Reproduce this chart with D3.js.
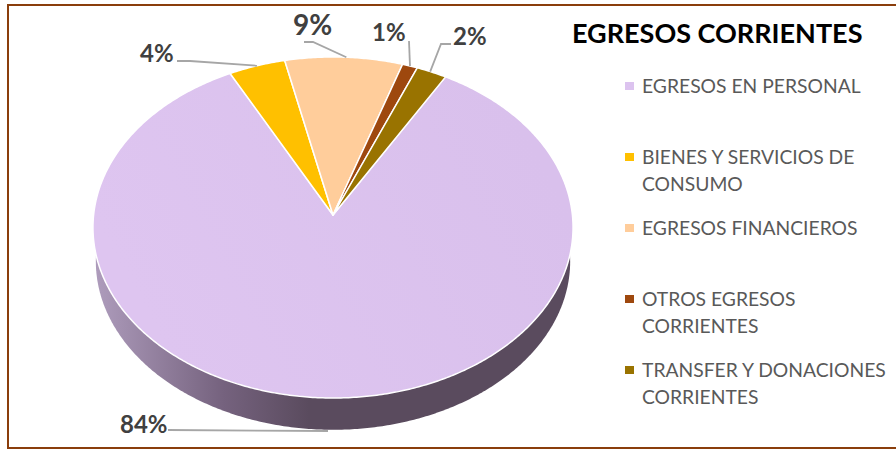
<!DOCTYPE html>
<html>
<head>
<meta charset="utf-8">
<script src="https://cdn.jsdelivr.net/npm/d3@7"></script>
<style>
  html, body { margin: 0; padding: 0; background: #fff; }
  svg { display: block; }
  text { font-family: Lato, "Open Sans", sans-serif; }
</style>
</head>
<body>
<svg width="896" height="449"></svg>
<script>
// the labels show the rounded percentages
var categories = ['EGRESOS EN PERSONAL', 'BIENES Y SERVICIOS DE CONSUMO', 'EGRESOS FINANCIEROS', 'OTROS EGRESOS CORRIENTES', 'TRANSFER Y DONACIONES CORRIENTES'];
var values = [84.1, 4.1, 8.5, 1.1, 2.2];
var percentLabels = ['84%', '4%', '9%', '1%', '2%'];
var colors = ['#dcc3ef', '#ffc000', '#ffcd9b', '#9e480e', '#997300'];
var legendLines = [['EGRESOS EN PERSONAL'], ['BIENES Y SERVICIOS DE', 'CONSUMO'], ['EGRESOS FINANCIEROS'], ['OTROS EGRESOS', 'CORRIENTES'], ['TRANSFER Y DONACIONES', 'CORRIENTES']];

/************ layout ************/
var W = 896, H = 449;
var cx = 333, cy = 215;     // apex of the slices
var rx = 239.4, a = 169.6;  // disc size before perspective
var k = 0.0733;             // perspective, far side of the disc looks smaller
var depth = 34;
var startAngle = 30 * Math.PI / 180;

// where each label and its leader go, same order as values
var labelPos = [
  {x: 120, y: 433, size: 24, leader: [[168, 430], [328, 431]]},
  {x: 140, y: 62, size: 24, leader: [[177, 61], [190, 61]]},
  {x: 293, y: 35, size: 28, leader: [[304, 42], [313, 42]]},
  {x: 372, y: 41, size: 24, leader: [[409, 41]]},
  {x: 453, y: 45, size: 24, leader: [[451, 44], [441, 44]]}
];
// how far along the rim the leader lands, as share of the slice (0 = its start)
var leaderAt = [null, 0.5, 0.52, 0.5, 0.45];

var legendY = [93, 164, 235, 306, 377];
var legendLine = 26.5;

var svg = d3.select('svg');

var defs = svg.append('defs');
var wallGrad = defs.append('linearGradient').attr('id', 'wall')
  .attr('gradientUnits', 'userSpaceOnUse')
  .attr('x1', 95).attr('x2', 571).attr('y1', 0).attr('y2', 0);
wallGrad.append('stop').attr('offset', '0').attr('stop-color', '#ae9cbc');
wallGrad.append('stop').attr('offset', '0.27').attr('stop-color', '#75627e');
wallGrad.append('stop').attr('offset', '0.45').attr('stop-color', '#5a4b5e');
wallGrad.append('stop').attr('offset', '1').attr('stop-color', '#5a4b5e');
var topGrad = defs.append('linearGradient').attr('id', 'topFill')
  .attr('gradientUnits', 'userSpaceOnUse')
  .attr('x1', 150).attr('y1', 320).attr('x2', 520).attr('y2', 120);
topGrad.append('stop').attr('offset', '0').attr('stop-color', '#dec5f0');
topGrad.append('stop').attr('offset', '1').attr('stop-color', '#d9c0ec');

// circle angle (0 = away from viewer, clockwise) to screen
var project = function(t, shiftY, scale) {
  var X = Math.sin(t), Z = Math.cos(t);
  var s = scale || 1;
  return [cx + s * rx * X / (1 + k * Z), cy + (shiftY || 0) - s * a * Z / (1 + k * Z)];
};

var rim = function(t0, t1, shiftY, scale) {
  var n = Math.max(2, Math.ceil((t1 - t0) / 0.01));
  return d3.range(n + 1).map(function(i) {
    return project(t0 + (t1 - t0) * i / n, shiftY, scale);
  });
};

var line = d3.line();

// the outer wall is just the lower disc, the slices go over it
svg.append('path')
  .attr('d', line(rim(0, 2 * Math.PI, depth, 0.988)) + 'Z')
  .attr('fill', 'url(#wall)');

var pie = d3.pie().sort(null).startAngle(startAngle).endAngle(startAngle + 2 * Math.PI);
var arcs = pie(values);

svg.append('g').selectAll('path')
  .data(arcs)
  .enter().append('path')
  .attr('d', function(d) {
    return line([[cx, cy]].concat(rim(d.startAngle, d.endAngle))) + 'Z';
  })
  .attr('fill', function(d, i) { return i === 0 ? 'url(#topFill)' : colors[i]; })
  .attr('stroke', '#fff')
  .attr('stroke-width', 1.5)
  .attr('stroke-linejoin', 'round');

// leaders
svg.append('g').selectAll('path')
  .data(arcs)
  .enter().append('path')
  .attr('d', function(d, i) {
    if (leaderAt[i] === null) return line(labelPos[i].leader);
    var t = d.startAngle + (d.endAngle - d.startAngle) * leaderAt[i];
    return line(labelPos[i].leader.concat([project(t)]));
  })
  .attr('fill', 'none')
  .attr('stroke', '#a6a6a6')
  .attr('stroke-width', 1.8);

// percent labels
svg.append('g').selectAll('text')
  .data(percentLabels)
  .enter().append('text')
  .attr('x', function(d, i) { return labelPos[i].x; })
  .attr('y', function(d, i) { return labelPos[i].y; })
  .attr('font-size', function(d, i) { return labelPos[i].size; })
  .attr('font-weight', 700)
  .attr('fill', '#404040')
  .text(function(d) { return d; });

// title
svg.append('text')
  .attr('x', 572).attr('y', 43)
  .attr('font-size', 27)
  .attr('font-weight', 700)
  .attr('fill', '#000')
  .text('EGRESOS CORRIENTES');

// legend
var legend = svg.append('g').selectAll('g')
  .data(categories)
  .enter().append('g');
legend.append('rect')
  .attr('x', 625)
  .attr('y', function(d, i) { return legendY[i] - 11; })
  .attr('width', 9).attr('height', 8)
  .attr('fill', function(d, i) { return colors[i]; });
legend.each(function(d, i) {
  d3.select(this).selectAll('text')
    .data(legendLines[i])
    .enter().append('text')
    .attr('x', 642)
    .attr('y', function(s, j) { return legendY[i] + j * legendLine; })
    .attr('font-size', 19.3)
    .attr('fill', '#595959')
    .text(function(s) { return s; });
});

// frame, no right side in the picture
svg.append('path')
  .attr('d', line([[W, 5], [8, 5], [8, 448], [W, 448]]))
  .attr('fill', 'none')
  .attr('stroke', '#8a3e0c')
  .attr('stroke-width', 2);
</script>
</body>
</html>
